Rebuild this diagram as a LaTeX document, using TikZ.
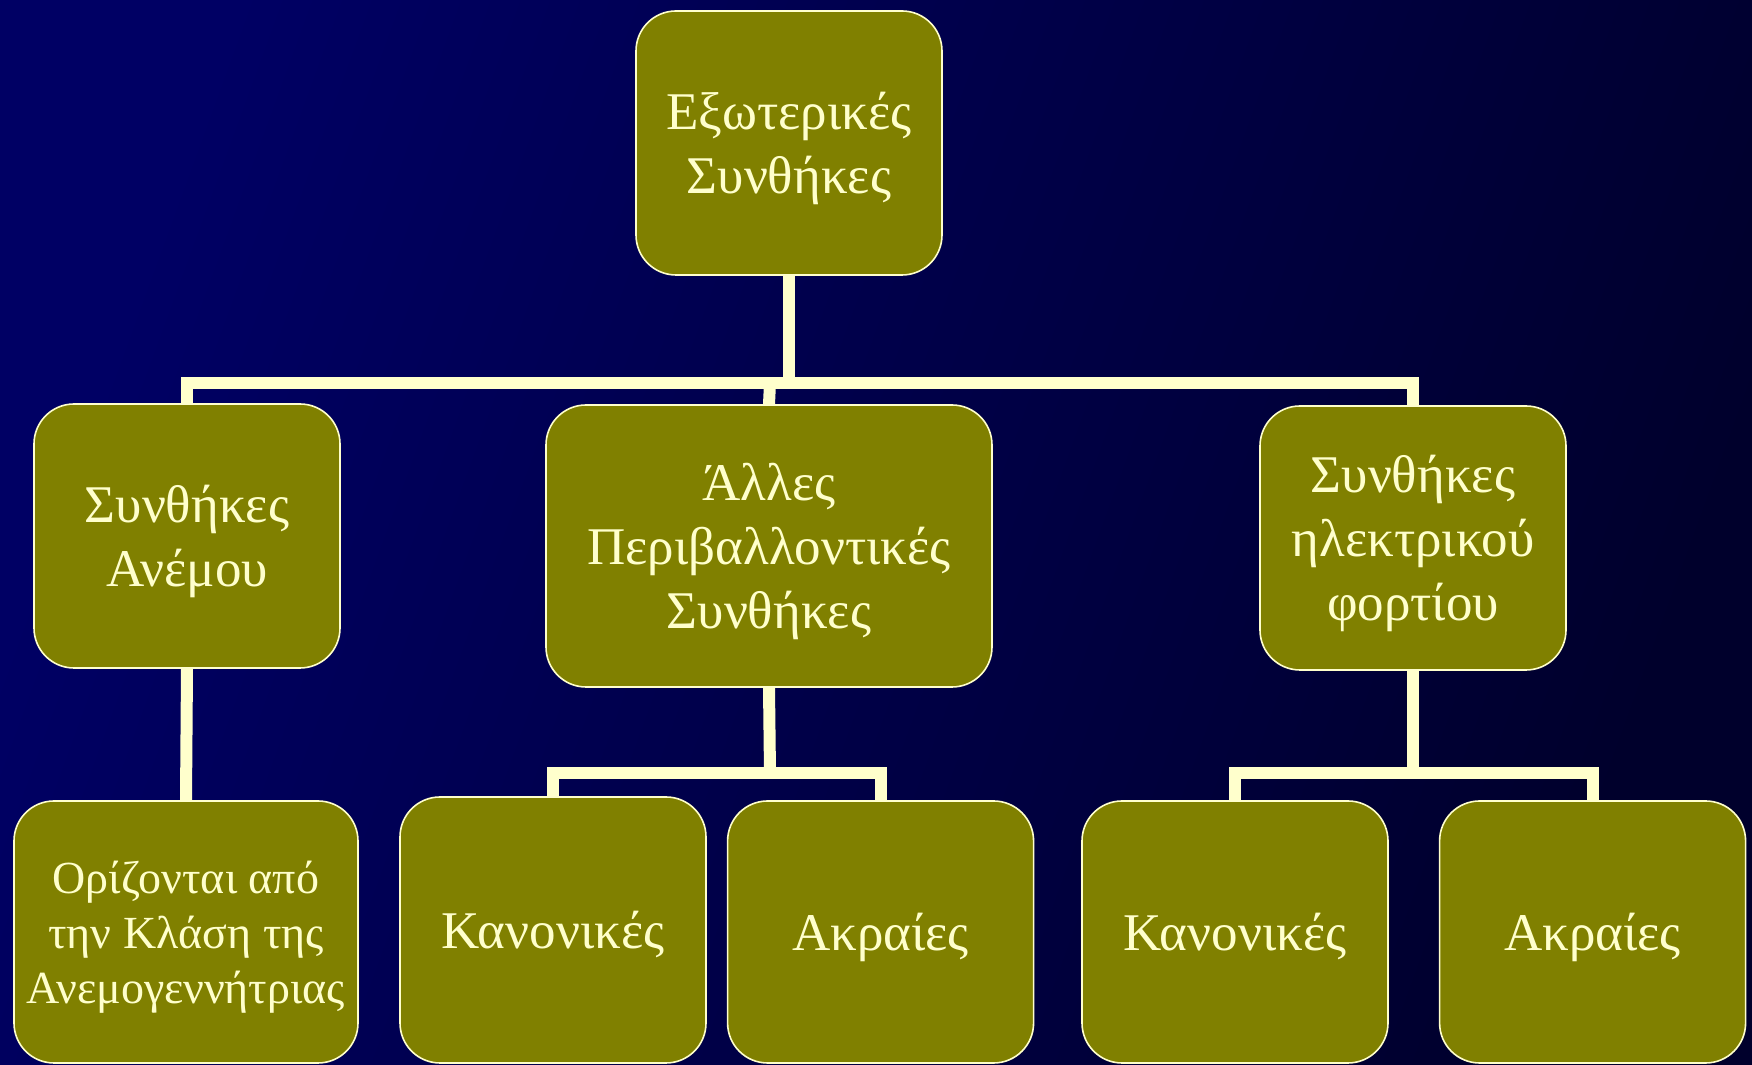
\documentclass[tikz,border=0pt]{standalone}
\usepackage{fontspec}
\setmainfont{Liberation Serif}
\usepackage{xcolor}
\definecolor{BgTop}{RGB}{0,0,100}
\definecolor{BgBottom}{RGB}{0,0,44}
\definecolor{BoxOlive}{RGB}{128,128,0}
\definecolor{Cream}{RGB}{255,255,204}
\usetikzlibrary{positioning}
\usetikzlibrary{calc}

\begin{document}
\begin{tikzpicture}[
      , x=0.5pt, y=0.5pt
      , box/.style={rectangle, rounded corners=20pt, draw=Cream, line width=0.8pt,
          fill=BoxOlive, text=Cream, align=center, inner sep=0pt,
          minimum width=153pt, minimum height=132pt, text depth=-2pt,
          font=\fontsize{26.5}{32}\selectfont}
      , smallbox/.style={box, font=\fontsize{23}{27.4}\selectfont}
      , link/.style={draw=Cream, line width=6pt, line join=miter}
      ]

      \useasboundingbox (0,0) rectangle (1752,1065);
      \shade[left color=BgTop, right color=BgBottom, shading angle=70] (0,0) rectangle (1752,1065);

      % top level
      \node[box] (ext) at (789,922) {Εξωτερικές\\Συνθήκες};

      % second level
      \node[box] (wind) at (187,529) {Συνθήκες\\Ανέμου};
      \node[box, minimum width=223pt, minimum height=141pt] (env) at (769,519)
          {Άλλες\\Περιβαλλοντικές\\Συνθήκες};
      \node[box] (load) at (1413,527) {Συνθήκες\\ηλεκτρικού\\φορτίου};

      % third level
      \node[smallbox, minimum width=172pt, minimum height=131pt] (class) at (186,133)
          {Ορίζονται από\\την Κλάση της\\Ανεμογεννήτριας};
      \node[box, minimum height=133pt] (env-norm) at (553,135) {Κανονικές};
      \node[box, minimum height=131pt, right=10pt of env-norm.south east, anchor=south west] (env-ext) {Ακραίες};
      \node[box, minimum height=131pt] (load-norm) at (1235,133) {Κανονικές};
      \node[box, minimum height=131pt, right=25pt of load-norm] (load-ext) {Ακραίες};

      \coordinate (split-top) at (790,682);
      \coordinate (split-env) at (770,292);
      \coordinate (split-load) at (1413,292);

      \draw[link] (ext.south) -- (ext.south |- split-top);
      \draw[link] (wind.north) -- (wind.north |- split-top) -- (load.north |- split-top) -- (load.north);
      \draw[link] (split-env |- split-top) -- (env.north);

      \draw[link] (wind.south) -- (class.north);

      \draw[link] (env.south) -- (split-env);
      \draw[link] (env-norm.north) -- (env-norm.north |- split-env) -- (env-ext.north |- split-env) -- (env-ext.north);

      \draw[link] (load.south) -- (split-load);
      \draw[link] (load-norm.north) -- (load-norm.north |- split-load) -- (load-ext.north |- split-load) -- (load-ext.north);
    \end{tikzpicture}
\end{document}
